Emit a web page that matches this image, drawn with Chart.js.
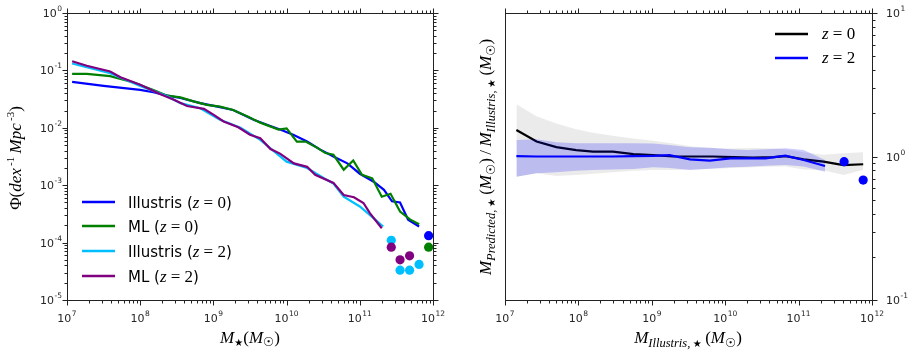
<!DOCTYPE html>
<html>
<head>
<meta charset="utf-8">
<script src="https://cdn.jsdelivr.net/npm/chart.js@4.4.1/dist/chart.umd.min.js"></script>
<style>
html, body { margin: 0; padding: 0; background: #fff; }
#wrap { position: relative; width: 915px; height: 355px; }
canvas { position: absolute; top: 0; }
</style>
</head>
<body>
<div id="wrap">
    <canvas id="mf" width="455" height="355" style="left:0;width:455px;height:355px"></canvas>
    <canvas id="ratio" width="460" height="355" style="left:455px;width:460px;height:355px"></canvas>
</div>
<script>
// ---- left panel: stellar mass function (log10 M, log10 Phi)
const massIllZ0 = [7.07, 7.5, 8.0, 8.18, 8.37, 8.55, 8.82, 9.09, 9.27, 9.55, 9.74, 9.91, 10.09, 10.28, 10.46, 10.64, 10.83, 11.0, 11.19, 11.33, 11.44, 11.55, 11.66, 11.81];
const phiIllZ0 = [-1.20, -1.27, -1.34, -1.38, -1.44, -1.48, -1.57, -1.64, -1.69, -1.86, -1.95, -2.03, -2.12, -2.24, -2.38, -2.50, -2.62, -2.80, -2.94, -3.08, -3.28, -3.30, -3.60, -3.72];

const massMLZ0 = [7.07, 7.27, 7.59, 7.91, 8.18, 8.37, 8.55, 8.73, 8.91, 9.09, 9.27, 9.46, 9.64, 9.89, 10.0, 10.14, 10.26, 10.42, 10.53, 10.64, 10.78, 10.91, 11.03, 11.17, 11.30, 11.42, 11.55, 11.69, 11.81];
const phiMLZ0 = [-1.06, -1.06, -1.10, -1.21, -1.34, -1.44, -1.47, -1.54, -1.60, -1.63, -1.69, -1.80, -1.91, -2.03, -2.01, -2.24, -2.24, -2.35, -2.44, -2.47, -2.73, -2.57, -2.82, -2.88, -3.20, -3.15, -3.46, -3.60, -3.68];

const massIllZ2 = [7.07, 7.59, 8.0, 8.37, 8.55, 8.82, 9.09, 9.37, 9.64, 10.0, 10.28, 10.51, 10.64, 10.78, 11.0, 11.14, 11.32];
const phiIllZ2 = [-0.88, -1.05, -1.27, -1.45, -1.57, -1.66, -1.86, -2.00, -2.21, -2.59, -2.70, -2.88, -2.97, -3.20, -3.37, -3.52, -3.72];

const massMLZ2 = [7.07, 7.27, 7.59, 7.73, 8.0, 8.27, 8.46, 8.64, 8.87, 9.0, 9.14, 9.34, 9.50, 9.64, 9.78, 9.91, 10.10, 10.28, 10.39, 10.64, 10.78, 10.92, 11.05, 11.14, 11.30];
const phiMLZ2 = [-0.84, -0.92, -1.02, -1.12, -1.25, -1.41, -1.51, -1.62, -1.67, -1.77, -1.89, -1.99, -2.12, -2.18, -2.37, -2.45, -2.62, -2.68, -2.82, -2.96, -3.17, -3.21, -3.31, -3.49, -3.75];

// single sparse bins shown as dots
const dotMassIllZ2 = [11.43, 11.55, 11.68, 11.81];
const dotPhiIllZ2 = [-3.96, -4.48, -4.48, -4.38];
const dotMassMLZ2 = [11.43, 11.55, 11.68];
const dotPhiMLZ2 = [-4.08, -4.30, -4.23];
const dotMassZ0 = [11.94];
const dotPhiIllZ0 = [-3.88];
const dotPhiMLZ0 = [-4.08];

// ---- right panel: predicted / true mass ratio (log10 M, log10 ratio)
const massRatioZ0 = [7.155, 7.43, 7.70, 7.97, 8.20, 8.47, 8.75, 9.02, 9.29, 9.56, 9.83, 10.11, 10.38, 10.66, 10.82, 11.07, 11.34, 11.61, 11.88];
const ratioZ0 = [0.185, 0.105, 0.065, 0.045, 0.034, 0.034, 0.017, 0.010, 0.0, 0.0, 0.0, -0.005, -0.008, -0.005, 0.003, -0.020, -0.036, -0.060, -0.054];
const ratioZ0Hi = [0.364, 0.28, 0.23, 0.19, 0.165, 0.145, 0.125, 0.11, 0.09, 0.07, 0.06, 0.055, 0.06, 0.055, 0.05, 0.03, 0.012, 0.022, 0.029];
const ratioZ0Lo = [-0.141, -0.117, -0.136, -0.129, -0.12, -0.11, -0.10, -0.094, -0.094, -0.09, -0.085, -0.08, -0.075, -0.07, -0.07, -0.09, -0.095, -0.129, -0.094];

const massRatioZ2 = [7.155, 7.43, 7.70, 7.97, 8.20, 8.47, 8.75, 9.02, 9.24, 9.52, 9.79, 10.07, 10.30, 10.55, 10.82, 11.07, 11.36];
const ratioZ2 = [0.003, 0.0, 0.0, 0.0, 0.0, 0.0, 0.003, 0.005, 0.01, -0.02, -0.029, -0.013, -0.013, -0.013, 0.006, -0.024, -0.066];
const ratioZ2Hi = [0.115, 0.12, 0.10, 0.092, 0.092, 0.092, 0.092, 0.09, 0.08, 0.065, 0.061, 0.05, 0.045, 0.05, 0.057, 0.045, -0.024];
const ratioZ2Lo = [-0.141, -0.117, -0.11, -0.10, -0.094, -0.09, -0.087, -0.075, -0.08, -0.094, -0.085, -0.075, -0.071, -0.065, -0.059, -0.07, -0.106];

const dotMassRatio = [11.62, 11.88];
const dotRatio = [-0.036, -0.164];

const SANS = '"DejaVu Sans", sans-serif';
const SERIF = '"Liberation Serif", "DejaVu Serif", serif';

function pts(logX, logY) {
    return logX.map((x, i) => ({ x: Math.pow(10, x), y: Math.pow(10, logY[i]) }));
}

function lineSet(logX, logY, color, order, width) {
    return {
        data: pts(logX, logY),
        borderColor: color,
        borderWidth: width || 2.2,
        pointRadius: 0,
        fill: false,
        order: order
    };
}

function dotSet(logX, logY, color, order) {
    return {
        data: pts(logX, logY),
        showLine: false,
        pointRadius: 4.6,
        pointBackgroundColor: color,
        pointBorderWidth: 0,
        order: order
    };
}

function bandSet(logX, logY, color, order, fillTo) {
    return {
        data: pts(logX, logY),
        borderWidth: 0,
        pointRadius: 0,
        backgroundColor: color,
        fill: fillTo,
        order: order
    };
}

// "10^n" label, y is the vertical middle of the digits
function powLabel(ctx, exp, x, y, align) {
    const base = '10';
    const sup = String(exp);
    ctx.font = '11px ' + SANS;
    const wb = ctx.measureText(base).width;
    ctx.font = '7.5px ' + SANS;
    const ws = ctx.measureText(sup).width;
    const w = wb + ws + 0.5;
    let x0 = x;
    if (align === 'center') x0 = x - w / 2;
    if (align === 'right') x0 = x - w;
    ctx.textAlign = 'left';
    ctx.textBaseline = 'alphabetic';
    ctx.font = '11px ' + SANS;
    ctx.fillText(base, x0, y + 4);
    ctx.font = '7.5px ' + SANS;
    ctx.fillText(sup, x0 + wb + 0.5, y - 2);
}

// runs: [text, font, dy]
function drawRuns(ctx, runs, x, y, rotate, align) {
    ctx.save();
    ctx.translate(x, y);
    if (rotate) ctx.rotate(-Math.PI / 2);
    let total = 0;
    runs.forEach(r => { ctx.font = r[1]; total += ctx.measureText(r[0]).width; });
    let cx = align === 'left' ? 0 : -total / 2;
    ctx.textAlign = 'left';
    ctx.textBaseline = 'alphabetic';
    runs.forEach(r => {
        ctx.font = r[1];
        ctx.fillText(r[0], cx, r[2] || 0);
        cx += ctx.measureText(r[0]).width;
    });
    ctx.restore();
}

const I17 = 'italic 17px ' + SERIF;
const R17 = '17px ' + SERIF;
const I12 = 'italic 12.5px ' + SERIF;
const STAR = '10px "DejaVu Sans"';
const SUN = '12.5px "DejaVu Sans"';

function axesPlugin(opt) {
    return {
        id: 'axes_' + opt.name,
        afterDraw(chart) {
            const ctx = chart.ctx;
            const a = chart.chartArea;
            const xs = chart.scales.x;
            const ys = chart.scales.y;
            ctx.save();
            ctx.strokeStyle = '#222';
            ctx.fillStyle = '#262626';
            ctx.lineWidth = 1;
            const L = Math.round(a.left) + 0.5, R = Math.round(a.right) + 0.5;
            const T = Math.round(a.top) + 0.5, B = Math.round(a.bottom) + 0.5;
            ctx.strokeRect(L, T, R - L, B - T);

            function seg(x1, y1, x2, y2) {
                ctx.beginPath();
                ctx.moveTo(x1, y1);
                ctx.lineTo(x2, y2);
                ctx.stroke();
            }

            for (let n = 7; n <= 12; n++) {
                for (let k = 1; k <= 9; k++) {
                    if (n === 12 && k > 1) break;
                    const px = Math.round(xs.getPixelForValue(k * Math.pow(10, n))) + 0.5;
                    const len = k === 1 ? 5 : 3;
                    seg(px, B, px, B + len);
                    seg(px, T, px, T - len);
                }
                powLabel(ctx, n, xs.getPixelForValue(Math.pow(10, n)), 317.5, 'center');
            }

            for (let n = opt.yMin; n <= opt.yMax; n++) {
                for (let k = 1; k <= 9; k++) {
                    if (n === opt.yMax && k > 1) break;
                    const py = Math.round(ys.getPixelForValue(k * Math.pow(10, n))) + 0.5;
                    const len = k === 1 ? 5 : 3;
                    if (opt.leftTicks) seg(L, py, L - len, py);
                    seg(R, py, R + len, py);
                }
                const yy = ys.getPixelForValue(Math.pow(10, n));
                if (opt.leftTicks) powLabel(ctx, n, a.left - 5, yy, 'right');
                else powLabel(ctx, n, a.right + 14, yy, 'left');
            }
            opt.labels(ctx, a);
            ctx.restore();
        }
    };
}

Chart.defaults.font.family = SANS;

new Chart(document.getElementById('mf'), {
    type: 'line',
    data: {
        datasets: [
            lineSet(massIllZ0, phiIllZ0, '#0000ff', 9),
            lineSet(massMLZ0, phiMLZ0, '#008000', 8),
            lineSet(massIllZ2, phiIllZ2, '#00bfff', 7),
            lineSet(massMLZ2, phiMLZ2, '#800080', 6),
            dotSet(dotMassZ0, dotPhiIllZ0, '#0000ff', 5),
            dotSet(dotMassZ0, dotPhiMLZ0, '#008000', 4),
            dotSet(dotMassIllZ2, dotPhiIllZ2, '#00bfff', 3),
            dotSet(dotMassMLZ2, dotPhiMLZ2, '#800080', 2)
        ]
    },
    options: {
        responsive: false,
        animation: false,
        devicePixelRatio: 1,
        layout: { padding: { left: 67, right: 22, top: 13, bottom: 55 }, autoPadding: false },
        plugins: { legend: { display: false }, tooltip: { enabled: false } },
        scales: {
            x: { type: 'logarithmic', min: 1e7, max: 1e12, display: false },
            y: { type: 'logarithmic', min: 1e-5, max: 1, display: false }
        }
    },
    plugins: [axesPlugin({
        name: 'mf', yMin: -5, yMax: 0, leftTicks: true,
        labels(ctx, a) {
            ctx.fillStyle = '#000';
            drawRuns(ctx, [['M', I17], ['\u2605', STAR, 3], ['(', R17], ['M', I17], ['\u2609', SUN, 3], [')', R17]], 250, 343);
            drawRuns(ctx, [['\u03a6', R17], ['(', R17], ['dex', I17], ['\u2009-1', '11px ' + SERIF, -7],
                ['\u2009Mpc', I17], ['\u2009-3', '11px ' + SERIF, -7], [')', R17]], 21, 158, true);
            const items = [
                ['Illustris (', '0', '#0000ff'],
                ['ML (', '0', '#008000'],
                ['Illustris (', '2', '#00bfff'],
                ['ML (', '2', '#800080']
            ];
            const ys = [202, 226, 251, 276];
            items.forEach((it, i) => {
                ctx.strokeStyle = it[2];
                ctx.lineWidth = 2.5;
                ctx.beginPath();
                ctx.moveTo(82, ys[i]);
                ctx.lineTo(115, ys[i]);
                ctx.stroke();
                ctx.fillStyle = '#000';
                drawRuns(ctx, [[it[0], '15px ' + SANS], ['z', I17], [' = ' + it[1], R17], [')', '15px ' + SANS]],
                    128, ys[i] + 5.5, false, 'left');
            });
        }
    })]
});

new Chart(document.getElementById('ratio'), {
    type: 'line',
    data: {
        datasets: [
            bandSet(massRatioZ0, ratioZ0Hi, 'rgba(0,0,0,0.08)', 20, '+1'),
            bandSet(massRatioZ0, ratioZ0Lo, 'rgba(0,0,0,0)', 20, false),
            lineSet(massRatioZ0, ratioZ0, '#000000', 15, 2.2),
            bandSet(massRatioZ2, ratioZ2Hi, 'rgba(0,0,255,0.2)', 10, '+1'),
            bandSet(massRatioZ2, ratioZ2Lo, 'rgba(0,0,0,0)', 10, false),
            lineSet(massRatioZ2, ratioZ2, '#0000ff', 5, 2.2),
            dotSet(dotMassRatio, dotRatio, '#0000ff', 1)
        ]
    },
    options: {
        responsive: false,
        animation: false,
        devicePixelRatio: 1,
        layout: { padding: { left: 50, right: 43, top: 13, bottom: 55 }, autoPadding: false },
        plugins: { legend: { display: false }, tooltip: { enabled: false } },
        scales: {
            x: { type: 'logarithmic', min: 1e7, max: 1e12, display: false },
            y: { type: 'logarithmic', min: 0.1, max: 10, display: false }
        }
    },
    plugins: [axesPlugin({
        name: 'ratio', yMin: -1, yMax: 1, leftTicks: false,
        labels(ctx, a) {
            ctx.fillStyle = '#000';
            drawRuns(ctx, [['M', I17], ['Illustris,\u2009', I12, 3.5], ['\u2605', STAR, 3.5], ['\u2009(', R17], ['M', I17], ['\u2609', SUN, 3.5], [')', R17]], 233, 343);
            drawRuns(ctx, [['M', I17], ['Predicted,\u2009', I12, 3.5], ['\u2605', STAR, 3.5], ['\u2009(', R17], ['M', I17], ['\u2609', SUN, 3.5], [')', R17],
                ['\u2009/\u2009', R17], ['M', I17], ['Illustris,\u2009', I12, 3.5], ['\u2605', STAR, 3.5], ['\u2009(', R17], ['M', I17], ['\u2609', SUN, 3.5], [')', R17]],
                36, 157, true);
            const leg = [['0', '#000000', 34], ['2', '#0000ff', 58]];
            leg.forEach(l => {
                ctx.strokeStyle = l[1];
                ctx.lineWidth = 2.5;
                ctx.beginPath();
                ctx.moveTo(320, l[2]);
                ctx.lineTo(353, l[2]);
                ctx.stroke();
                ctx.fillStyle = '#000';
                drawRuns(ctx, [['z', I17], [' = ' + l[0], R17]], 367, l[2] + 5, false, 'left');
            });
        }
    })]
});
</script>
</body>
</html>
